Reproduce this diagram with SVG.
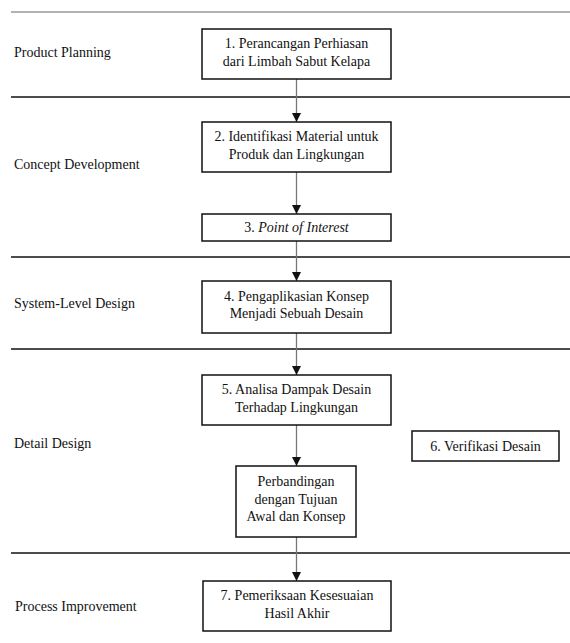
<svg xmlns="http://www.w3.org/2000/svg" width="570" height="643" viewBox="0 0 570 643">
<style>
.lane{font-family:'Liberation Serif','DejaVu Serif',serif;font-size:14px;fill:#111}
.t{font-family:'Liberation Serif','DejaVu Serif',serif;font-size:14px;fill:#111;text-anchor:middle}
.box{fill:#fff;stroke:#111;stroke-width:1.5}
.sep{stroke:#111;stroke-width:1.5}
.con{stroke:#777;stroke-width:1.3;fill:none;marker-end:url(#ah)}
</style>
<defs>
<marker id="ah" markerUnits="userSpaceOnUse" markerWidth="10" markerHeight="10" refX="9" refY="5" orient="auto">
<path d="M0,0.5 L9,5 L0,9.5 Z" fill="#111"/>
</marker>
</defs>
<rect width="570" height="643" fill="#fff"/>
<g id="separators">
<line x1="11" y1="12" x2="570" y2="12" stroke="#999" stroke-width="1.5"/>
<line class="sep" x1="11" y1="97" x2="570" y2="97"/>
<line class="sep" x1="11" y1="257" x2="570" y2="257"/>
<line class="sep" x1="11" y1="349" x2="570" y2="349"/>
<line class="sep" x1="11" y1="553" x2="570" y2="553"/>
</g>
<g id="lanes">
<text class="lane" x="14" y="57">Product Planning</text>
<text class="lane" x="14" y="169">Concept Development</text>
<text class="lane" x="14" y="308">System-Level Design</text>
<text class="lane" x="14" y="448">Detail Design</text>
<text class="lane" x="15" y="611">Process Improvement</text>
</g>
<g id="connectors">
<line class="con" x1="296.5" y1="79" x2="296.5" y2="122"/>
<line class="con" x1="296.5" y1="172" x2="296.5" y2="214"/>
<line class="con" x1="296.5" y1="241" x2="296.5" y2="281"/>
<line class="con" x1="296.5" y1="333" x2="296.5" y2="375"/>
<line class="con" x1="296.5" y1="425" x2="296.5" y2="466"/>
<line class="con" x1="296.5" y1="537" x2="296.5" y2="581"/>
</g>
<g id="n1">
<rect class="box" x="202" y="29" width="189" height="50"/>
<text class="t" x="296.5" y="48">1. Perancangan Perhiasan</text>
<text class="t" x="296.5" y="66">dari Limbah Sabut Kelapa</text>
</g>
<g id="n2">
<rect class="box" x="202" y="122" width="189" height="50"/>
<text class="t" x="296.5" y="141">2. Identifikasi Material untuk</text>
<text class="t" x="296.5" y="159">Produk dan Lingkungan</text>
</g>
<g id="n3">
<rect class="box" x="202" y="214" width="189" height="27"/>
<text class="t" x="296.5" y="232">3. <tspan font-style="italic">Point of Interest</tspan></text>
</g>
<g id="n4">
<rect class="box" x="202" y="281" width="189" height="52"/>
<text class="t" x="296.5" y="301">4. Pengaplikasian Konsep</text>
<text class="t" x="296.5" y="318">Menjadi Sebuah Desain</text>
</g>
<g id="n5">
<rect class="box" x="202" y="375" width="189" height="50"/>
<text class="t" x="296.5" y="394">5. Analisa Dampak Desain</text>
<text class="t" x="296.5" y="412">Terhadap Lingkungan</text>
</g>
<g id="n6">
<rect class="box" x="412" y="431" width="147" height="30"/>
<text class="t" x="485.5" y="451">6. Verifikasi Desain</text>
</g>
<g id="n5b">
<rect class="box" x="236" y="466" width="120" height="71"/>
<text class="t" x="296" y="486">Perbandingan</text>
<text class="t" x="296" y="503.5">dengan Tujuan</text>
<text class="t" x="296" y="521">Awal dan Konsep</text>
</g>
<g id="n7">
<rect class="box" x="203" y="581" width="188" height="50"/>
<text class="t" x="297" y="600">7. Pemeriksaan Kesesuaian</text>
<text class="t" x="297" y="618">Hasil Akhir</text>
</g>
</svg>
